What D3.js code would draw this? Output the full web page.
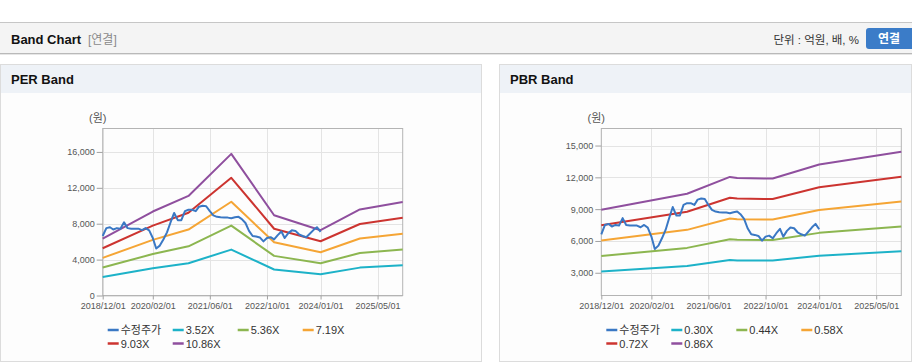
<!DOCTYPE html>
<html>
<head>
<meta charset="utf-8">
<script src="https://cdn.jsdelivr.net/npm/d3@7"></script>
<style>
body{margin:0;background:#fff;font-family:"Liberation Sans",Arial,"Noto Sans CJK KR",sans-serif;}
svg{display:block;}
</style>
</head>
<body>
<svg id="page" width="912" height="364"></svg>
<script>
// ---- data ----
var xDomain = ["2018/12/01", "2025/12/01"];
var xTicks = ["2018/12/01", "2020/02/01", "2021/06/01", "2022/10/01", "2024/01/01", "2025/05/01"];

// 수정주가, monthly from 2018/12
var priceStart = "2018/12/01";
var price = [6630, 7510, 7610, 7360, 7510, 7450, 8150, 7510, 7450, 7450,
	7450, 7290, 7510, 7260, 6410, 5240, 5560, 6250, 7040, 8140,
	9200, 8400, 8400, 9400, 9560, 9560, 9400, 9900, 10000, 9950,
	9400, 8930, 8770, 8710, 8680, 8680, 8620, 8710, 8770, 8520,
	8080, 7200, 6630, 6570, 6470, 6030, 6410, 6500, 6250, 6730,
	7140, 6410, 6950, 7260, 7200, 6820, 6630, 6500, 6880, 7290,
	7610, 7100];

// PER band
var perDates = ["2018/12/01", "2020/02/01", "2020/12/01", "2021/12/01", "2022/12/01", "2024/01/01", "2024/12/01", "2025/12/01"];
var perNames = ["3.52X", "5.36X", "7.19X", "9.03X", "10.86X"];
var per352 = [2052, 3034, 3597, 5115, 2900, 2358, 3108, 3376];
var per536 = [3125, 4620, 5478, 7788, 4417, 3591, 4733, 5140];
var per719 = [4192, 6198, 7348, 10447, 5925, 4817, 6349, 6895];
var per903 = [5264, 7784, 9229, 13121, 7441, 6050, 7973, 8660];
var per1086 = [6331, 9361, 11099, 15780, 8949, 7276, 9589, 10415];
var perTicks = [0, 4000, 8000, 12000, 16000];
var perDomain = [0, 18612];

// PBR band
var pbrDates = ["2018/12/01", "2020/12/01", "2021/12/01", "2022/02/01", "2022/12/01", "2024/01/01", "2025/12/01"];
var pbrNames = ["0.30X", "0.44X", "0.58X", "0.72X", "0.86X"];
var pbr030 = [3120, 3645, 4200, 4164, 4146, 4611, 5025];
var pbr044 = [4576, 5346, 6160, 6107, 6081, 6763, 7370];
var pbr058 = [6032, 7047, 8120, 8050, 8016, 8915, 9715];
var pbr072 = [7488, 8748, 10080, 9994, 9950, 11066, 12060];
var pbr086 = [8944, 10449, 12040, 11937, 11885, 13218, 14405];
var pbrTicks = [3000, 6000, 9000, 12000, 15000];
var pbrDomain = [855, 16607];

var priceName = "수정주가";
var priceColor = "#3a78c4";
var bandColors = ["#1db2c8", "#8cb650", "#f5a535", "#cc3430", "#8f4f9e"];

var parse = d3.timeParse("%Y/%m/%d");
var svg = d3.select("#page");

// ---- top header ----
svg.append("rect").attr("x", 0).attr("y", 22).attr("width", 912).attr("height", 31).attr("fill", "#f4f4f4");
svg.append("line").attr("x1", 0).attr("x2", 912).attr("y1", 22.5).attr("y2", 22.5).attr("stroke", "#c6c6c6");
svg.append("line").attr("x1", 0).attr("x2", 912).attr("y1", 53.5).attr("y2", 53.5).attr("stroke", "#b9b9b9");
svg.append("line").attr("x1", 0).attr("x2", 912).attr("y1", 54.5).attr("y2", 54.5).attr("stroke", "#e6e6e6");
svg.append("text").attr("x", 11).attr("y", 44).attr("font-size", 13).attr("font-weight", "bold")
	.attr("fill", "#111").text("Band Chart");
svg.append("text").attr("x", 88).attr("y", 44).attr("font-size", 12).attr("fill", "#8a8a8a").text("[연결]");
svg.append("text").attr("x", 859).attr("y", 44).attr("font-size", 11.5).attr("text-anchor", "end")
	.attr("fill", "#333").text("단위 : 억원, 배, %");
svg.append("rect").attr("x", 866).attr("y", 28).attr("width", 52).attr("height", 21).attr("rx", 3)
	.attr("fill", "#3b7cc8");
svg.append("text").attr("x", 889).attr("y", 43).attr("font-size", 12).attr("font-weight", "bold")
	.attr("text-anchor", "middle").attr("fill", "#fff").text("연결");

function drawPanel(x0, w, title) {
	svg.append("rect").attr("x", x0 + 0.5).attr("y", 64.5).attr("width", w - 1).attr("height", 297)
		.attr("fill", "#fdfdfd").attr("stroke", "#dcdcdc");
	svg.append("rect").attr("x", x0 + 1).attr("y", 65).attr("width", w - 2).attr("height", 28).attr("fill", "#eef2f7");
	svg.append("text").attr("x", x0 + 11).attr("y", 84).attr("font-size", 13).attr("font-weight", "bold")
		.attr("fill", "#111").text(title);
}

function drawChart(left, domain, ticks, bandDates, bands, names) {
	var top = 128.5, bottom = 295.5, w = 300;
	var x = d3.scaleTime().domain(xDomain.map(parse)).range([left, left + w]);
	var y = d3.scaleLinear().domain(domain).range([bottom, top]);
	var g = svg.append("g");

	// grid
	g.selectAll(".vg").data(xTicks).enter().append("line")
		.attr("x1", function(d) { return Math.round(x(parse(d))) + 0.5; })
		.attr("x2", function(d) { return Math.round(x(parse(d))) + 0.5; })
		.attr("y1", top).attr("y2", bottom).attr("stroke", "#e4e4e4");
	g.selectAll(".hg").data(ticks).enter().append("line")
		.attr("x1", left).attr("x2", left + w)
		.attr("y1", function(d) { return Math.round(y(d)) + 0.5; })
		.attr("y2", function(d) { return Math.round(y(d)) + 0.5; })
		.attr("stroke", "#e4e4e4");

	// frame
	g.append("rect").attr("x", left).attr("y", top).attr("width", w).attr("height", bottom - top)
		.attr("fill", "none").attr("stroke", "#b4b4b4");

	// axes
	var yAxis = d3.axisLeft(y).tickValues(ticks).tickFormat(d3.format(",")).tickSizeInner(6).tickSizeOuter(0);
	var ga = g.append("g").attr("transform", "translate(" + left + ",0)").call(yAxis);
	ga.select(".domain").remove();
	ga.selectAll("line").attr("stroke", "#a0a0a0");
	ga.selectAll("text").attr("font-size", 9).attr("fill", "#555").attr("x", -8)
		.attr("font-family", "'Liberation Sans',Arial,sans-serif");

	var xAxis = d3.axisBottom(x).tickValues(xTicks.map(parse)).tickFormat(d3.timeFormat("%Y/%m/%d"))
		.tickSizeInner(4).tickSizeOuter(0);
	var gx = g.append("g").attr("transform", "translate(0," + bottom + ")").call(xAxis);
	gx.select(".domain").remove();
	gx.selectAll("line").attr("stroke", "#a0a0a0");
	gx.selectAll("text").attr("font-size", 9).attr("fill", "#555").attr("y", 7)
		.attr("font-family", "'Liberation Sans',Arial,sans-serif");

	g.append("text").attr("x", left - 5).attr("y", 122).attr("text-anchor", "middle")
		.attr("font-size", 11).attr("fill", "#555").text("(원)");

	// band lines
	var line = d3.line()
		.x(function(d) { return x(d.date); })
		.y(function(d) { return y(d.value); });
	bands.forEach(function(vals, i) {
		var pts = vals.map(function(v, j) { return {date: parse(bandDates[j]), value: v}; });
		g.append("path").datum(pts).attr("d", line).attr("fill", "none")
			.attr("stroke", bandColors[i]).attr("stroke-width", 2).attr("stroke-linejoin", "round");
	});

	// price
	var p0 = parse(priceStart);
	var pricePts = price.map(function(v, i) { return {date: d3.timeMonth.offset(p0, i), value: v}; });
	g.append("path").datum(pricePts).attr("d", line).attr("fill", "none")
		.attr("stroke", priceColor).attr("stroke-width", 2).attr("stroke-linejoin", "round");

	// legend
	var items = [{name: priceName, color: priceColor}];
	names.forEach(function(n, i) { items.push({name: n, color: bandColors[i]}); });
	var lg = g.selectAll(".lg").data(items).enter().append("g")
		.attr("transform", function(d, i) {
			return "translate(" + (left + 5 + (i % 4) * 65) + "," + (330 + Math.floor(i / 4) * 13.5) + ")";
		});
	lg.append("line").attr("x1", 0).attr("x2", 11).attr("y1", 0).attr("y2", 0)
		.attr("stroke", function(d) { return d.color; }).attr("stroke-width", 2.5);
	lg.append("text").attr("x", 13).attr("y", 4).attr("font-size", 11).attr("fill", "#333")
		.text(function(d) { return d.name; });
}

drawPanel(0, 482, "PER Band");
drawPanel(499, 413, "PBR Band");

drawChart(102.7, perDomain, perTicks, perDates, [per352, per536, per719, per903, per1086], perNames);
drawChart(601.3, pbrDomain, pbrTicks, pbrDates, [pbr030, pbr044, pbr058, pbr072, pbr086], pbrNames);
</script>
</body>
</html>
